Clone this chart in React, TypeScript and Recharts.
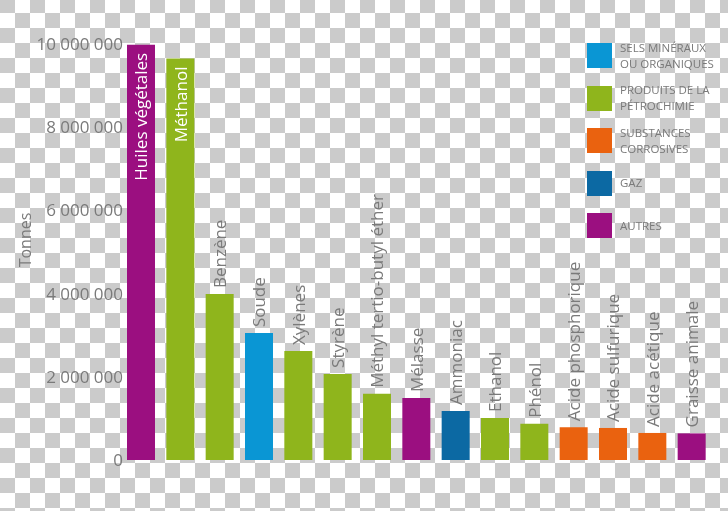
import { BarChart, Bar, XAxis, YAxis, Cell, LabelList } from "recharts"

// tonnages per product
const products = [
  "Huiles végétales",
  "Méthanol",
  "Benzène",
  "Soude",
  "Xylènes",
  "Styrène",
  "Méthyl tertio-butyl éther",
  "Mélasse",
  "Ammoniac",
  "Ethanol",
  "Phénol",
  "Acide phosphorique",
  "Acide sulfurique",
  "Acide acétique",
  "Graisse animale"
]
const tonnes = [
  9980000, 9650000, 3990000, 3050000, 2620000, 2070000, 1590000, 1490000,
  1180000, 1010000, 870000, 790000, 770000, 650000, 640000
]
const groups = [
  "autres", "petro", "petro", "sels", "petro", "petro", "petro", "autres",
  "gaz", "petro", "petro", "corrosives", "corrosives", "corrosives", "autres"
]
const yTicks = [0, 2000000, 4000000, 6000000, 8000000, 10000000]

const legendKeys = ["sels", "petro", "corrosives", "gaz", "autres"]
const legendLabels = [
  ["SELS MINÉRAUX", "OU ORGANIQUES"],
  ["PRODUITS DE LA", "PÉTROCHIMIE"],
  ["SUBSTANCES", "CORROSIVES"],
  ["GAZ"],
  ["AUTRES"]
]
const insideLabels = ["Huiles végétales", "Méthanol"]

const groupColors: Record<string, string> = {
  sels: "#0a96d4",
  petro: "#8fb51c",
  corrosives: "#ea620f",
  gaz: "#0c69a3",
  autres: "#9b0f80"
}

const textGray = "#7a7a7a"

const data = products.map((name, i) => ({ name, tonnes: tonnes[i], group: groups[i] }))

const formatTonnes = (v: number) => String(v).replace(/\B(?=(\d{3})+(?!\d))/g, " ")

function BarLabel(props: any) {
  const { x, y, width, value } = props
  const cx = Number(x) + Number(width) / 2
  const inside = insideLabels.includes(value)
  const ty = inside ? Number(y) + 8 : Number(y) - 6
  return (
    <text
      x={cx}
      y={ty}
      transform={`rotate(-90 ${cx} ${ty})`}
      textAnchor={inside ? "end" : "start"}
      dominantBaseline="central"
      fontSize={17}
      fill={inside ? "#ffffff" : textGray}
    >
      {value}
    </text>
  )
}

function TonnesLabel() {
  return (
    <text
      x={25}
      y={240}
      transform="rotate(-90 25 240)"
      textAnchor="middle"
      dominantBaseline="central"
      fontSize={16}
      fill={textGray}
    >
      Tonnes
    </text>
  )
}

export default function App() {
  return (
    <div
      style={{
        position: "fixed",
        top: 0,
        left: 0,
        width: 728,
        height: 511,
        fontFamily: "'Open Sans', sans-serif",
        background: "repeating-conic-gradient(#ffffff 0 25%, #cbcbcb 0 50%) 0 -2px / 30px 30px"
      }}
    >
      <BarChart
        width={728}
        height={511}
        data={data}
        margin={{ top: 44, right: 17, bottom: 51, left: 0 }}
      >
        <XAxis dataKey="name" hide />
        <YAxis
          width={121}
          domain={[0, 10000000]}
          ticks={yTicks}
          interval={0}
          axisLine={false}
          tickLine={false}
          tickSize={0}
          tickMargin={-2}
          tickFormatter={formatTonnes}
          tick={{ fill: textGray, fontSize: 17 }}
          label={{ content: () => <TonnesLabel /> }}
        />
        <Bar dataKey="tonnes" barSize={28} isAnimationActive={false}>
          {data.map((d) => (
            <Cell key={d.name} fill={groupColors[d.group]} />
          ))}
          <LabelList dataKey="name" content={(p: any) => <BarLabel {...p} />} />
        </Bar>
      </BarChart>

      <div style={{ position: "absolute", left: 587, top: 43 }}>
        {legendKeys.map((k, i) => (
          <div
            key={k}
            style={{ position: "relative", height: 42.5, width: 141 }}
          >
            <div
              style={{
                position: "absolute",
                left: 0,
                top: 0,
                width: 25,
                height: 25,
                background: groupColors[k]
              }}
            />
            <div
              style={{
                position: "absolute",
                left: 33,
                top: 12.5,
                transform: "translateY(-50%)",
                fontSize: 11.5,
                lineHeight: "16px",
                color: textGray,
                whiteSpace: "nowrap"
              }}
            >
              {legendLabels[i].map((line) => (
                <div key={line}>{line}</div>
              ))}
            </div>
          </div>
        ))}
      </div>
    </div>
  )
}
